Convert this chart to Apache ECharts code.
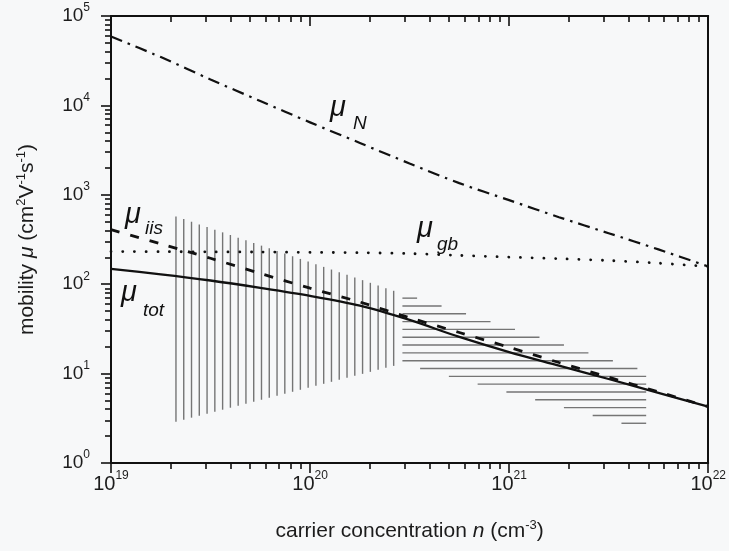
<!DOCTYPE html>
<html><head><meta charset="utf-8">
<script src="https://cdn.jsdelivr.net/npm/echarts@6/dist/echarts.min.js"></script>
<style>html,body{margin:0;padding:0;background:#f7f8f9}#c{width:729px;height:551px}</style>
</head><body><div id="c"></div>
<script>
// carrier concentration n (cm^-3)
const nValues = [1e19, 1.78e19, 3.16e19, 5.62e19, 1e20, 1.78e20, 3.16e20, 5.62e20, 1e21, 1.78e21, 3.16e21, 5.62e21, 1e22];
// mobilities (cm^2 V^-1 s^-1)
const muN   = [58900, 34700, 19500, 11200, 6460, 3800, 2240, 1350, 871, 562, 372, 245, 158];
const muGb  = [232, 231, 230, 229, 227, 225, 220, 210, 201, 193, 184, 172, 158];
const muIis = [407, 282, 195, 132, 90.2, 63.1, 42.2, 28.8, 19.7, 13.3, 9.12, 6.24, 4.27];
const muTot = [148, 129, 110, 91, 74, 57.5, 39.8, 25.7, 17.4, 12.3, 8.7, 6.1, 4.27];
// hatched uncertainty regions: [xLeft, xRight, topLeft, topRight, bottomLeft, bottomRight]
const vHatchRegion = [2.12e19, 2.63e20, 573, 84.4, 2.90, 12.2];
const hHatchRegion = [2.91e20, 4.88e21, 78.8, 10.6, 12.9, 2.34];
// ticks
const xMajor = [1e19, 1e20, 1e21, 1e22];
const yMajor = [1, 10, 100, 1000, 10000, 100000];
const xMinor = [2e19,3e19,4e19,5e19,6e19,7e19,8e19,9e19,2e20,3e20,4e20,5e20,6e20,7e20,8e20,9e20,2e21,3e21,4e21,5e21,6e21,7e21,8e21,9e21];
const yMinor = [2,3,4,5,6,7,8,9,20,30,40,50,60,70,80,90,200,300,400,500,600,700,800,900,2000,3000,4000,5000,6000,7000,8000,9000,20000,30000,40000,50000,60000,70000,80000,90000];

const FONT = '"Liberation Sans", Arial, Helvetica, sans-serif';
const INK = '#111';
const TXT = '#1c1c1c';

function pairs(ys){ return nValues.map((x,i)=>[x, ys[i]]); }

function powLabel(v){ return '{b|10}{s|' + Math.round(Math.log10(v)) + '}'; }
function powRich(size){
  return { b:{fontSize:size, fontFamily:FONT, color:TXT, lineHeight:28},
           s:{fontSize:12, fontFamily:FONT, color:TXT, verticalAlign:'top'} };
}

const HATCH = {stroke:'#757575', lineWidth:1.4};

function renderVertical(params, api){
  const A = api.coord([api.value(0), api.value(2)]);
  const B = api.coord([api.value(1), api.value(3)]);
  const C = api.coord([api.value(1), api.value(5)]);
  const D = api.coord([api.value(0), api.value(4)]);
  const n = 29, kids = [];
  for (let i=0;i<n;i++){
    const f = i/(n-1);
    const x = A[0] + f*(B[0]-A[0]);
    const yt = A[1] + f*(B[1]-A[1]);
    const yb = D[1] + f*(C[1]-D[1]);
    kids.push({type:'line', shape:{x1:x,y1:yt,x2:x,y2:yb}, style:HATCH});
  }
  return {type:'group', children:kids};
}
function renderHorizontal(params, api){
  const A = api.coord([api.value(0), api.value(2)]);
  const B = api.coord([api.value(1), api.value(3)]);
  const C = api.coord([api.value(1), api.value(5)]);
  const D = api.coord([api.value(0), api.value(4)]);
  const n = 17, step = (C[1]-A[1])/17.46, kids = [];
  for (let j=0;j<n;j++){
    const y = A[1] + (j+0.6)*step;
    const right = y <= B[1] ? A[0] + (y-A[1])/(B[1]-A[1])*(B[0]-A[0]) : B[0];
    const left = y <= D[1] ? A[0] : D[0] + (y-D[1])/(C[1]-D[1])*(C[0]-D[0]);
    if (right > left) kids.push({type:'line', shape:{x1:left,y1:y,x2:right,y2:y}, style:HATCH});
  }
  return {type:'group', children:kids};
}

const xBase = {type:'log', logBase:10, min:1e19, max:1e22, splitLine:{show:false}, minorTick:{show:false}};
const yBase = {type:'log', logBase:10, min:1, max:1e5, splitLine:{show:false}, minorTick:{show:false}};
const lineAx = {show:true, onZero:false, lineStyle:{color:INK, width:2}};
const tickStyle = {color:INK, width:1.6};
const titleRich = {
  i:{fontSize:21, fontStyle:'italic', fontFamily:FONT, color:TXT},
  sup:{fontSize:13, fontFamily:FONT, color:TXT, verticalAlign:'top'}
};

function muLabel(main, sub, x, y, sx, sy){
  return [
    {type:'text', x:x, y:y, z:50, style:{text:main, fontSize:29, fontStyle:'italic', fontFamily:FONT, fill:INK, verticalAlign:'middle', align:'left'}},
    {type:'text', x:sx, y:sy, z:50, style:{text:sub, fontSize:19, fontStyle:'italic', fontFamily:FONT, fill:INK, verticalAlign:'middle', align:'left'}}
  ];
}

const option = {
  backgroundColor:'#f7f8f9',
  animation:false,
  grid:{left:111, right:20, top:16, bottom:88, containLabel:false},
  xAxis:[
    Object.assign({}, xBase, {position:'bottom', axisLine:lineAx,
      axisTick:{show:true, inside:false, length:10, lineStyle:tickStyle, customValues:xMajor},
      axisLabel:{show:true, customValues:xMajor, margin:7, formatter:powLabel, rich:powRich(20)},
      name:'carrier concentration {i|n} (cm{sup|-3})', nameLocation:'middle', nameGap:56,
      nameTextStyle:{fontSize:21, fontFamily:FONT, color:TXT, lineHeight:24, rich:titleRich}}),
    Object.assign({}, xBase, {position:'bottom', axisLine:{show:false},
      axisTick:{show:true, inside:false, length:6, lineStyle:tickStyle, customValues:xMinor},
      axisLabel:{show:false}}),
    Object.assign({}, xBase, {position:'top', axisLine:lineAx,
      axisTick:{show:true, inside:true, length:10, lineStyle:tickStyle, customValues:xMajor},
      axisLabel:{show:false}}),
    Object.assign({}, xBase, {position:'top', axisLine:{show:false},
      axisTick:{show:true, inside:true, length:6, lineStyle:tickStyle, customValues:xMinor},
      axisLabel:{show:false}})
  ],
  yAxis:[
    Object.assign({}, yBase, {position:'left', axisLine:lineAx,
      axisTick:{show:true, inside:false, length:10, lineStyle:tickStyle, customValues:yMajor},
      axisLabel:{show:true, customValues:yMajor, margin:21, formatter:powLabel, rich:powRich(19)},
      name:'mobility {i|μ} (cm{sup|2}V{sup|-1}s{sup|-1})', nameLocation:'middle', nameGap:72, nameRotate:90,
      nameTextStyle:{fontSize:21, fontFamily:FONT, color:TXT, lineHeight:24, rich:titleRich}}),
    Object.assign({}, yBase, {position:'left', axisLine:{show:false},
      axisTick:{show:true, inside:false, length:6, lineStyle:tickStyle, customValues:yMinor},
      axisLabel:{show:false}}),
    Object.assign({}, yBase, {position:'right', axisLine:lineAx, axisTick:{show:false}, axisLabel:{show:false}})
  ],
  series:[
    {type:'custom', coordinateSystem:'cartesian2d', xAxisIndex:0, yAxisIndex:0, renderItem:renderVertical,
     data:[vHatchRegion], encode:{x:[0,1], y:[2,3,4,5]}, silent:true, z:1},
    {type:'custom', coordinateSystem:'cartesian2d', xAxisIndex:0, yAxisIndex:0, renderItem:renderHorizontal,
     data:[hHatchRegion], encode:{x:[0,1], y:[2,3,4,5]}, silent:true, z:1},
    {type:'line', name:'N', data:pairs(muN), symbol:'none', smooth:0.3, z:5,
     lineStyle:{color:INK, width:2.2, type:[12,6,2.5,6]}},
    {type:'line', name:'gb', data:pairs(muGb), symbol:'none', smooth:0.3, z:5,
     lineStyle:{color:INK, width:2.8, type:[0.1,11.6], cap:'round'}},
    {type:'line', name:'iis', data:pairs(muIis), symbol:'none', smooth:0.3, z:5,
     lineStyle:{color:INK, width:2.8, type:[9,11]}},
    {type:'line', name:'tot', data:pairs(muTot), symbol:'none', smooth:0.3, z:6,
     lineStyle:{color:INK, width:2.3, type:'solid'}}
  ],
  graphic:[].concat(
    muLabel('μ','N', 330, 107.5, 353, 123.4),
    muLabel('μ','gb', 417, 228.5, 437, 244.4),
    muLabel('μ','iis', 125, 214.5, 145, 228.4),
    muLabel('μ','tot', 121, 292.5, 143, 310.4)
  )
};
const chart = echarts.init(document.getElementById('c'), null, {renderer:'canvas'});
chart.setOption(option);
</script></body></html>
